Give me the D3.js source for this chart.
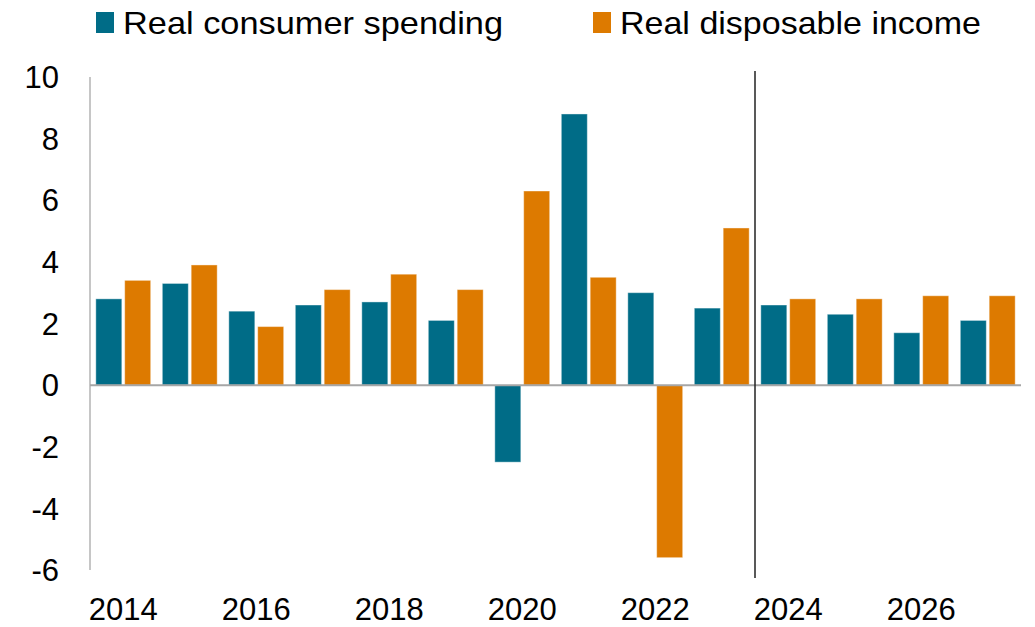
<!DOCTYPE html>
<html>
<head>
<meta charset="utf-8">
<script src="https://cdn.jsdelivr.net/npm/d3@7"></script>
<style>
  body { margin: 0; background: #fff; }
  text { font-family: "Liberation Sans", Arial, sans-serif; fill: #000; }
</style>
</head>
<body>
<div id="chart"></div>
<script>
const years = [2014, 2015, 2016, 2017, 2018, 2019, 2020, 2021, 2022, 2023, 2024, 2025, 2026, 2027];
const consumerSpending = [2.8, 3.3, 2.4, 2.6, 2.7, 2.1, -2.5, 8.8, 3.0, 2.5, 2.6, 2.3, 1.7, 2.1];
const disposableIncome = [3.4, 3.9, 1.9, 3.1, 3.6, 3.1, 6.3, 3.5, -5.6, 5.1, 2.8, 2.8, 2.9, 2.9];
const seriesNames = ["Real consumer spending", "Real disposable income"];
const seriesColors = ["#006C87", "#DD7A00"];
const yTicks = [-6, -4, -2, 0, 2, 4, 6, 8, 10];
const xTickYears = [2014, 2016, 2018, 2020, 2022, 2024, 2026];
const forecastStart = 2024;

const W = 1035, H = 627;
const plotLeft = 90, plotRight = 1021, plotTop = 77, plotBottom = 570;

const svg = d3.select("#chart").append("svg")
    .attr("width", W)
    .attr("height", H)

const x = d3.scaleBand().domain(years).range([plotLeft, plotRight]).paddingInner(0.175).paddingOuter(0.0875);
const xs = d3.scaleBand().domain([0, 1]).range([0, x.bandwidth()]).paddingInner(0.1);
const y = d3.scaleLinear().domain([-6, 10]).range([plotBottom, plotTop]);

const rows = years.map((yr, i) => ({year: yr, vals: [consumerSpending[i], disposableIncome[i]]}));

// bars
const groups = svg.append("g").selectAll("g")
    .data(rows)
    .enter().append("g")
    .attr("transform", d => `translate(${x(d.year)},0)`);

groups.selectAll("rect")
    .data(d => d.vals.map((v, k) => ({v, k})))
    .enter().append("rect")
    .attr("x", d => xs(d.k))
    .attr("width", xs.bandwidth())
    .attr("y", d => y(Math.max(0, d.v)))
    .attr("height", d => Math.abs(y(d.v) - y(0)))
    .attr("fill", d => seriesColors[d.k])
    .attr("stroke", "#ffffff")
    .attr("stroke-opacity", 0.4)
    .attr("stroke-width", 1);

// y axis line
svg.append("line")
    .attr("x1", plotLeft).attr("x2", plotLeft)
    .attr("y1", y(10)).attr("y2", y(-6))
    .attr("stroke", "#b3b3b3").attr("stroke-width", 1.5);

// zero line
svg.append("line")
    .attr("x1", plotLeft).attr("x2", plotRight)
    .attr("y1", y(0)).attr("y2", y(0))
    .attr("stroke", "#a6a6a6").attr("stroke-width", 2);

// y labels
svg.append("g").selectAll("text")
    .data(yTicks)
    .enter().append("text")
    .attr("x", 59)
    .attr("y", d => y(d))
    .attr("dy", "0.36em")
    .attr("text-anchor", "end")
    .style("font-size", "31px")
    .text(d => d);

// x labels
svg.append("g").selectAll("text")
    .data(xTickYears)
    .enter().append("text")
    .attr("x", d => x(d) + x.bandwidth() / 2)
    .attr("y", 620)
    .attr("text-anchor", "middle")
    .style("font-size", "31px")
    .text(d => d);

// forecast divider
const divX = x(forecastStart) - x.step() * x.paddingInner() / 2;
svg.append("line")
    .attr("x1", divX).attr("x2", divX)
    .attr("y1", 71).attr("y2", 578)
    .attr("stroke", "#222").attr("stroke-width", 1.5);

// legend
const legendX = [96, 593];
const legendW = [380, 361];
const legend = svg.append("g").selectAll("g")
    .data(seriesNames)
    .enter().append("g")
    .attr("transform", (d, i) => `translate(${legendX[i]},0)`);

legend.append("rect")
    .attr("x", 0).attr("y", 12)
    .attr("width", 18).attr("height", 21)
    .attr("fill", (d, i) => seriesColors[i]);

legend.append("text")
    .attr("x", 27)
    .attr("y", 34)
    .attr("textLength", (d, i) => legendW[i])
    .attr("lengthAdjust", "spacingAndGlyphs")
    .style("font-size", "32px")
    .text(d => d);
</script>
</body>
</html>
